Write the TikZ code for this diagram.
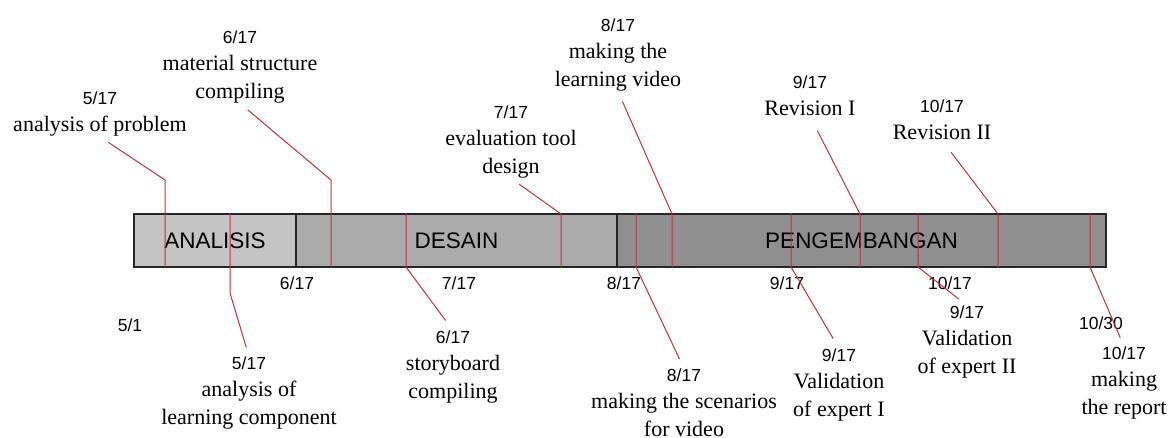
\documentclass[tikz,border=0pt]{standalone}
\usepackage{fontspec}
\setmainfont{Liberation Serif}
\newfontfamily\datefont{Liberation Sans}
\usepackage{xcolor}
\usepackage{tikz}
\definecolor{anaC}{RGB}{196,196,196}
\definecolor{desC}{RGB}{171,171,171}
\definecolor{penC}{RGB}{143,143,143}
\definecolor{tickred}{RGB}{198,48,48}
\newcommand{\dt}[1]{{\datefont\fontsize{17.5}{27.5}\selectfont #1}}

\begin{document}
\begin{tikzpicture}[x=1pt,y=-1pt,
	seg/.style={draw=black!85,line width=1.1pt,minimum height=53pt,inner sep=0pt,font=\datefont\fontsize{22.5}{27}\selectfont},
	note/.style={align=center,inner sep=0pt,font=\fontsize{22}{27.5}\selectfont},
	date/.style={inner sep=0pt,font=\datefont\fontsize{17.5}{20}\selectfont},
	tick/.style={tickred,line width=1pt}]
	\useasboundingbox[fill=white] (0,0) rectangle (1168,437);
	\node[seg,fill=anaC,minimum width=162pt] (ana) at (215,240.5) {ANALISIS};
	\node[seg,fill=desC,minimum width=321pt] (des) at (456.5,240.5) {DESAIN};
	\node[seg,fill=penC,minimum width=489pt] (pen) at (861.5,240.5) {PENGEMBANGAN};
	\node[date] (d51) at (130,325) {5/1};
	\node[date] (d617) at (297,283) {6/17};
	\node[date] (d717) at (459,283) {7/17};
	\node[date] (d817) at (624,283) {8/17};
	\node[date] (d917) at (787,283) {9/17};
	\node[date] (d1017) at (950,283) {10/17};
	\node[date] (d1030) at (1101,323) {10/30};
	\node[note,anchor=north] (lprob) at (100,91.5) {\dt{5/17}\\analysis of problem};
	\node[note,anchor=north] (lmat) at (240,30.5) {\dt{6/17}\\material structure\\compiling};
	\node[note,anchor=north] (leval) at (511,105.5) {\dt{7/17}\\evaluation tool\\design};
	\node[note,anchor=north] (lvideo) at (618,18.5) {\dt{8/17}\\making the\\learning video};
	\node[note,anchor=north] (lrev1) at (810,75.5) {\dt{9/17}\\Revision I};
	\node[note,anchor=north] (lrev2) at (942,99.5) {\dt{10/17}\\Revision II};
	\node[note,anchor=north] (lcomp) at (249,356.5) {\dt{5/17}\\analysis of\\learning component};
	\node[note,anchor=north] (lstory) at (453,330.5) {\dt{6/17}\\storyboard\\compiling};
	\node[note,anchor=north] (lscen) at (684,368.5) {\dt{8/17}\\making the scenarios\\for video};
	\node[note,anchor=north] (lexp1) at (839,348.5) {\dt{9/17}\\Validation\\of expert I};
	\node[note,anchor=north] (lexp2) at (967,305.5) {\dt{9/17}\\Validation\\of expert II};
	\node[note,anchor=north] (lrep) at (1124,346.5) {\dt{10/17}\\making\\the report};
	\coordinate (kprob) at (165,180);
	\coordinate (kmat) at (331,180);
	\coordinate (keval) at (561,214);
	\coordinate (kvideo) at (672,214);
	\coordinate (krev1) at (860,214);
	\coordinate (krev2) at (998,214);
	\coordinate (kcomp) at (230,293);
	\coordinate (kstory) at (406,267);
	\coordinate (kscen) at (636,267);
	\coordinate (kexp1) at (791,267);
	\coordinate (kexp2) at (918,267);
	\coordinate (krep) at (1090,267);
	\draw[tick,shorten <=10pt] (lprob.south) -- (kprob) -- (kprob |- ana.south);
	\draw[tick,shorten <=10pt] (lmat.south) -- (kmat) -- (kmat |- des.south);
	\draw[tick,shorten <=10pt] (leval.south) -- (keval) -- (keval |- des.south);
	\draw[tick,shorten <=11pt] (lvideo.south) -- (kvideo) -- (kvideo |- pen.south);
	\draw[tick,shorten <=16pt] (lrev1.south) -- (krev1) -- (krev1 |- pen.south);
	\draw[tick,shorten <=15pt] (lrev2.south) -- (krev2) -- (krev2 |- pen.south);
	\draw[tick,shorten >=9.5pt] (kcomp |- ana.north) -- (kcomp) -- (lcomp.north);
	\draw[tick,shorten >=12.5pt] (kstory |- des.north) -- (kstory) -- (lstory.north);
	\draw[tick,shorten >=10.5pt] (kscen |- pen.north) -- (kscen) -- (lscen.north);
	\draw[tick,shorten >=11.5pt] (kexp1 |- pen.north) -- (kexp1) -- (lexp1.north);
	\draw[tick,shorten >=10.5pt] (kexp2 |- pen.north) -- (kexp2) -- (lexp2.north);
	\draw[tick,shorten >=9.5pt] (krep |- pen.north) -- (krep) -- (lrep.north);
\end{tikzpicture}
\end{document}
